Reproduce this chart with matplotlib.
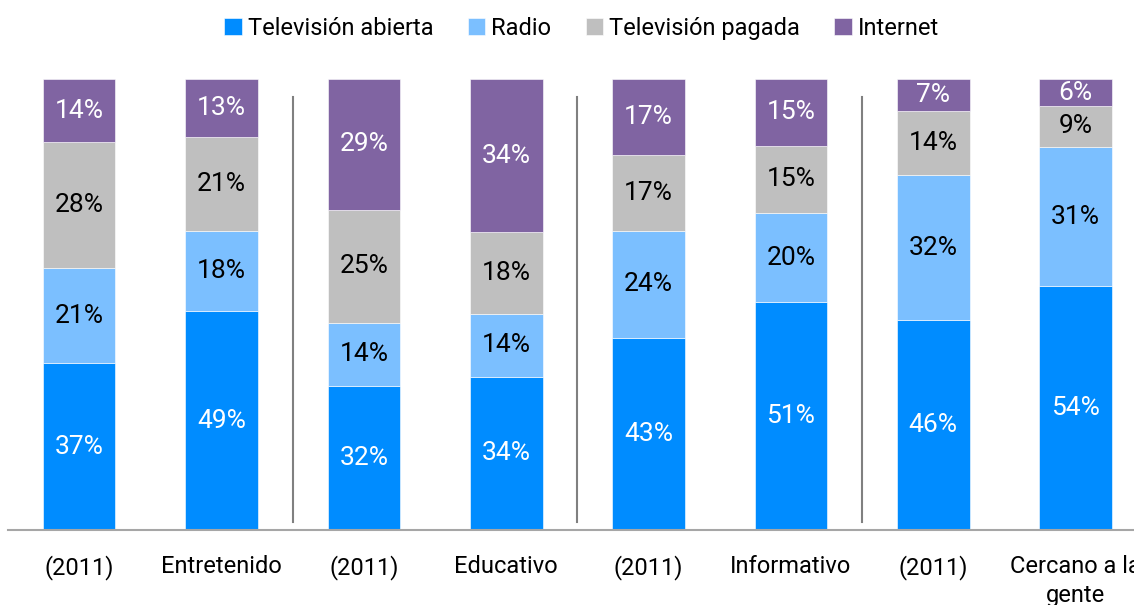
import matplotlib.pyplot as plt
import numpy as np

plt.rcParams['font.family'] = ['Roboto', 'DejaVu Sans']

# data
categories = ['(2011)', 'Entretenido', '(2011)', 'Educativo',
              '(2011)', 'Informativo', '(2011)', 'Cercano a la\ngente']
tv_abierta = [37, 49, 32, 34, 43, 51, 46, 54]
radio = [21, 18, 14, 14, 24, 20, 32, 31]
tv_pagada = [28, 21, 25, 18, 17, 15, 14, 9]
internet = [14, 13, 29, 34, 17, 15, 7, 6]

series_names = ['Televisión abierta', 'Radio', 'Televisión pagada', 'Internet']
colors = ['#008cff', '#7bbfff', '#bfbfbf', '#8064a2']
text_colors = ['white', 'black', 'black', 'white']

data = np.array([tv_abierta, radio, tv_pagada, internet], dtype=float)
shares = data / data.sum(axis=0) * 100  # stacks fill to 100%

fig = plt.figure(figsize=(11.34, 6.05), dpi=100)
ax = fig.add_axes([8 / 1134, 1 - 530 / 605, 1 - 8 / 1134, 451 / 605])

x = np.arange(len(categories))
bottom = np.zeros(len(categories))
for i in range(4):
    ax.bar(x, shares[i], bottom=bottom, width=0.51, color=colors[i],
           edgecolor='white', linewidth=0.4, label=series_names[i])
    for j in range(len(categories)):
        mid = bottom[j] + shares[i][j] / 2
        ax.text(x[j], mid, f'{int(data[i][j])}%', ha='center', va='center',
                color=text_colors[i], fontsize=19)
    bottom += shares[i]

# separators between groups
for sx in [1.5, 3.5, 5.5]:
    ax.plot([sx, sx], [1.8, 96], color='#808080', linewidth=1.5, clip_on=False)

ax.set_xlim(-0.5, 7.41)
ax.set_ylim(0, 100)
ax.set_xticks(x)
ax.set_xticklabels(categories, fontsize=17, linespacing=1.35)
ax.tick_params(axis='x', length=0, pad=18)
ax.set_yticks([])
for side in ['top', 'right', 'left']:
    ax.spines[side].set_visible(False)
ax.spines['bottom'].set_color('#a6a6a6')
ax.spines['bottom'].set_linewidth(1.5)

fig.legend(loc='upper center', bbox_to_anchor=(0.513, 1.007), ncol=4,
           frameon=False, fontsize=17, handlelength=0.75, handleheight=0.75,
           handletextpad=0.25, columnspacing=1.45)

fig.savefig('out.png', dpi=100)
